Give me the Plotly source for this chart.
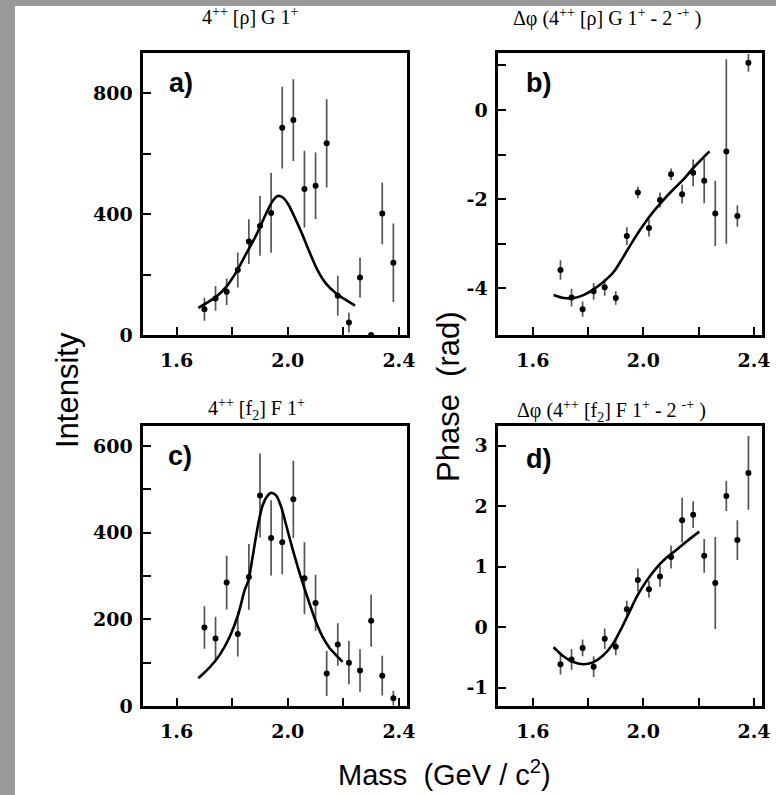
import plotly.graph_objects as go

# ---------------- data ----------------
mass = [1.70, 1.74, 1.78, 1.82, 1.86, 1.90, 1.94, 1.98, 2.02, 2.06,
        2.10, 2.14, 2.18, 2.22, 2.26, 2.30, 2.34, 2.38]

# a) intensity 4++ [rho] G 1+
int_a = [85, 121, 143, 215, 309, 361, 404, 686, 711, 483, 494, 634, 130, 41, 190, 0, 402, 239]
err_a = [38, 41, 44, 58, 74, 99, 132, 135, 135, 127, 110, 146, 66, 33, 66, 0, 102, 130]
fit_a_x = [1.678, 1.743, 1.779, 1.815, 1.851, 1.887, 1.922, 1.946, 1.964, 1.982,
           2.000, 2.024, 2.048, 2.078, 2.107, 2.137, 2.173, 2.209, 2.242]
fit_a_y = [90, 127, 160, 209, 270, 331, 402, 444, 460, 455,
           435, 391, 342, 275, 215, 171, 138, 116, 97]

# b) phase difference 4++ [rho] G 1+ - 2-+
ph_b = [-3.59, -4.21, -4.47, -4.07, -3.98, -4.22, -2.83, -1.85, -2.65, -2.02,
        -1.44, -1.89, -1.41, -1.59, -2.32, -0.93, -2.38, 1.06]
err_b = [0.22, 0.20, 0.17, 0.19, 0.19, 0.15, 0.20, 0.13, 0.19, 0.17,
         0.13, 0.21, 0.30, 0.50, 0.73, 2.07, 0.24, 0.20]
fit_b_x = [1.675, 1.713, 1.749, 1.785, 1.821, 1.857, 1.893, 1.928, 1.964, 2.000,
           2.036, 2.072, 2.107, 2.143, 2.179, 2.215, 2.239]
fit_b_y = [-4.15, -4.22, -4.22, -4.15, -4.02, -3.85, -3.63, -3.29, -2.92, -2.58,
           -2.28, -2.02, -1.79, -1.57, -1.31, -1.08, -0.93]

# c) intensity 4++ [f2] F 1+
int_c = [181, 156, 285, 166, 298, 486, 388, 378, 477, 295, 238, 75, 142, 100, 82, 197, 70, 18]
err_c = [49, 50, 62, 52, 76, 97, 87, 74, 89, 83, 65, 52, 49, 50, 49, 60, 46, 17]
fit_c_x = [1.678, 1.719, 1.755, 1.791, 1.821, 1.845, 1.858, 1.875, 1.893, 1.910,
           1.928, 1.940, 1.958, 1.976, 1.994, 2.018, 2.042, 2.078, 2.101, 2.125,
           2.149, 2.173, 2.197]
fit_c_y = [64, 89, 118, 160, 210, 268, 289, 350, 418, 464,
           486, 492, 486, 460, 418, 361, 308, 237, 195, 160,
           135, 118, 102]

# d) phase difference 4++ [f2] F 1+ - 2-+
ph_d = [-0.61, -0.53, -0.34, -0.65, -0.19, -0.32, 0.30, 0.78, 0.63, 0.84,
        1.16, 1.77, 1.86, 1.18, 0.73, 2.17, 1.44, 2.55]
err_d = [0.17, 0.17, 0.14, 0.17, 0.17, 0.14, 0.14, 0.19, 0.14, 0.17,
         0.19, 0.37, 0.22, 0.28, 0.76, 0.25, 0.33, 0.61]
fit_d_x = [1.675, 1.708, 1.744, 1.781, 1.817, 1.853, 1.889, 1.919, 1.949, 1.979,
           2.009, 2.045, 2.081, 2.117, 2.154, 2.202]
fit_d_y = [-0.33, -0.47, -0.57, -0.61, -0.58, -0.47, -0.28, -0.03, 0.25, 0.53,
           0.75, 0.97, 1.14, 1.27, 1.41, 1.58]

x_ticks = [1.6, 1.8, 2.0, 2.2, 2.4]
x_ticktext = ["1.6", "", "2.0", "", "2.4"]

titles = ["4<sup>++</sup> [ρ] G 1<sup>+</sup>",
          "Δφ (4<sup>++</sup> [ρ] G 1<sup>+</sup> - 2 <sup>-+</sup> )",
          "4<sup>++</sup> [f<sub>2</sub>] F 1<sup>+</sup>",
          "Δφ (4<sup>++</sup> [f<sub>2</sub>] F 1<sup>+</sup> - 2 <sup>-+</sup> )"]
letters = ["a)", "b)", "c)", "d)"]

# ---------------- figure ----------------
W, H = 776, 795
fig = go.Figure()

panels = [
    dict(y=int_a, e=err_a, fx=fit_a_x, fy=fit_a_y),
    dict(y=ph_b, e=err_b, fx=fit_b_x, fy=fit_b_y),
    dict(y=int_c, e=err_c, fx=fit_c_x, fy=fit_c_y),
    dict(y=ph_d, e=err_d, fx=fit_d_x, fy=fit_d_y),
]

for i, p in enumerate(panels, start=1):
    xa = "x" if i == 1 else f"x{i}"
    ya = "y" if i == 1 else f"y{i}"
    fig.add_trace(go.Scatter(
        x=mass, y=p["y"], mode="markers", xaxis=xa, yaxis=ya,
        marker=dict(color="black", size=6),
        error_y=dict(type="data", array=p["e"], color="#555555", thickness=1.7, width=0),
        cliponaxis=False, showlegend=False))
    fig.add_trace(go.Scatter(
        x=p["fx"], y=p["fy"], mode="lines", xaxis=xa, yaxis=ya,
        line=dict(color="black", width=2.6, shape="spline", smoothing=0.8),
        showlegend=False))

tickfont = dict(family="DejaVu Serif", size=19, color="black", weight="bold")

def xdom(l, r):
    return [l / W, r / W]

def ydom(t, b):
    return [(H - b) / H, (H - t) / H]

axis_common = dict(showline=True, linewidth=2.6, linecolor="black", mirror=True,
                   ticks="inside", ticklen=8, tickwidth=2, tickcolor="black",
                   showgrid=False, zeroline=False, tickfont=tickfont, fixedrange=True,
                   automargin=False)

left_x = xdom(143.3, 406.7)
right_x = xdom(498.3, 761.7)
top_y = ydom(53, 335)
bot_y = ydom(425.7, 706)

layout_axes = {
    "xaxis": dict(domain=left_x, range=[1.48, 2.428], anchor="y",
                  tickvals=x_ticks, ticktext=x_ticktext, ticklabelstandoff=6, **axis_common),
    "yaxis": dict(domain=top_y, range=[0, 933], anchor="x",
                  tickvals=[0, 200, 400, 600, 800], ticktext=["0", "", "400", "", "800"],
                  ticklabelstandoff=4, **axis_common),
    "xaxis2": dict(domain=right_x, range=[1.475, 2.428], anchor="y2",
                   tickvals=x_ticks, ticktext=x_ticktext, ticklabelstandoff=6, **axis_common),
    "yaxis2": dict(domain=top_y, range=[-5.05, 1.28], anchor="x2",
                   tickvals=[-4, -3, -2, -1, 0, 1], ticktext=["-4", "", "-2", "", "0", ""],
                   ticklabelstandoff=4, **axis_common),
    "xaxis3": dict(domain=left_x, range=[1.48, 2.428], anchor="y3",
                   tickvals=x_ticks, ticktext=x_ticktext, ticklabelstandoff=6, **axis_common),
    "yaxis3": dict(domain=bot_y, range=[0, 647], anchor="x3",
                   tickvals=[0, 100, 200, 300, 400, 500, 600],
                   ticktext=["0", "", "200", "", "400", "", "600"],
                   ticklabelstandoff=4, **axis_common),
    "xaxis4": dict(domain=right_x, range=[1.475, 2.428], anchor="y4",
                   tickvals=x_ticks, ticktext=x_ticktext, ticklabelstandoff=6, **axis_common),
    "yaxis4": dict(domain=bot_y, range=[-1.3, 3.33], anchor="x4",
                   tickvals=[-1, 0, 1, 2, 3], ticktext=["-1", "0", "1", "2", "3"],
                   ticklabelstandoff=4, **axis_common),
}

annotations = []
# panel titles
title_pos = [(250, 17), (607, 18), (256, 409), (611, 411)]
for t, (px, py) in zip(titles, title_pos):
    annotations.append(dict(text=t, x=px / W, y=(H - py) / H, xref="paper", yref="paper",
                            showarrow=False, xanchor="center", yanchor="middle",
                            font=dict(family="Liberation Serif", size=20, color="black")))
# panel letters
letter_pos = [(0.143, 0.894), (0.151, 0.894), (0.139, 0.892), (0.151, 0.881)]
for i, (lt, (dx, dy)) in enumerate(zip(letters, letter_pos), start=1):
    xr = "x domain" if i == 1 else f"x{i} domain"
    yr = "y domain" if i == 1 else f"y{i} domain"
    annotations.append(dict(text=lt, x=dx, y=dy, xref=xr, yref=yr, showarrow=False,
                            xanchor="center", yanchor="middle",
                            font=dict(family="Liberation Sans", size=27, color="black",
                                      weight="bold")))
# axis titles
label_font = dict(family="Liberation Sans Narrow, Liberation Sans", size=31, color="black")
annotations.append(dict(text="Intensity", x=67 / W, y=(H - 390) / H, xref="paper", yref="paper",
                        textangle=-90, showarrow=False, xanchor="center", yanchor="middle",
                        font=label_font))
annotations.append(dict(text="Phase  (rad)", x=448 / W, y=(H - 396) / H, xref="paper",
                        yref="paper", textangle=-90, showarrow=False, xanchor="center",
                        yanchor="middle", font=label_font))
annotations.append(dict(text="Mass  (GeV / c<sup>2</sup>)", x=444 / W, y=(H - 773) / H,
                        xref="paper", yref="paper", showarrow=False, xanchor="center",
                        yanchor="middle",
                        font=dict(family="Liberation Sans Narrow, Liberation Sans", size=29,
                                  color="black")))

shapes = [
    dict(type="rect", xref="paper", yref="paper", x0=0, x1=15 / W, y0=0, y1=1,
         fillcolor="#999999", line=dict(width=0), layer="below"),
    dict(type="rect", xref="paper", yref="paper", x0=0, x1=1, y0=(H - 6) / H, y1=1,
         fillcolor="#999999", line=dict(width=0), layer="below"),
]

fig.update_layout(
    width=W, height=H, autosize=False,
    margin=dict(l=0, r=0, t=0, b=0, pad=0, autoexpand=False),
    paper_bgcolor="white", plot_bgcolor="white",
    annotations=annotations, shapes=shapes, showlegend=False,
    **layout_axes,
)

fig.write_html("out.html", config={"displayModeBar": False})
